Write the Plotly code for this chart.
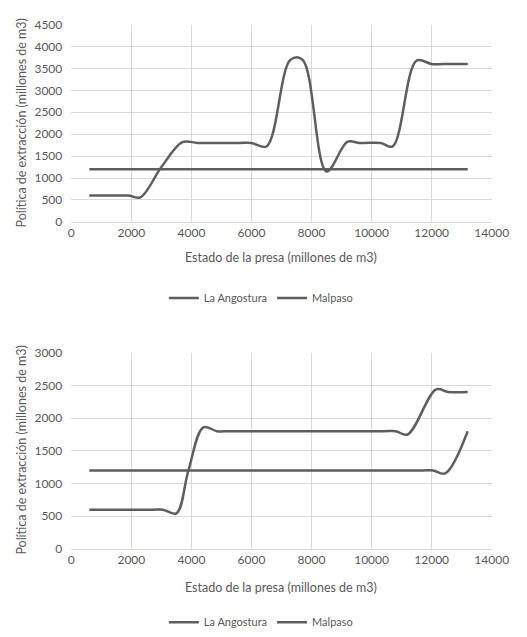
import plotly.graph_objects as go

# Policy curves: reservoir state (x) vs extraction policy (y)
top_angostura_x = [600, 1500, 1900, 2300, 3000, 3700, 4200, 4600, 5600, 6000, 6500, 7300, 7700, 8500, 9200, 9600, 10300, 10700, 11500, 12000, 12400, 13200]
top_angostura_y = [600, 600, 600, 560, 1250, 1820, 1800, 1800, 1800, 1800, 1720, 3700, 3700, 1150, 1830, 1800, 1800, 1720, 3680, 3600, 3600, 3600]
top_malpaso_x = [600, 13200]
top_malpaso_y = [1200, 1200]

bot_angostura_x = [600, 2700, 3050, 3500, 3900, 4400, 4850, 5300, 10400, 10800, 11200, 12150, 12550, 13200]
bot_angostura_y = [600, 600, 600, 545, 1200, 1860, 1800, 1800, 1800, 1800, 1750, 2440, 2400, 2400]
bot_malpaso_x = [600, 11700, 12050, 12450, 13200]
bot_malpaso_y = [1200, 1200, 1200, 1155, 1800]

series_names = ["La Angostura", "Malpaso"]
x_ticks = [0, 2000, 4000, 6000, 8000, 10000, 12000, 14000]
top_y_ticks = [0, 500, 1000, 1500, 2000, 2500, 3000, 3500, 4000, 4500]
bot_y_ticks = [0, 500, 1000, 1500, 2000, 2500, 3000]

x_title = "Estado de la presa (millones de m3)"
y_title = "Política de extracción (millones de m3)"

W, H = 527, 637
LINE = "#5e5e5e"
TEXT = "#595959"
GRID = "#d9d9d9"
FONT = "Lato"

def px_x(v):
    return v / W

def px_y(v):
    return 1 - v / H

fig = go.Figure()

line_style = dict(color=LINE, width=2.5, shape="spline", smoothing=1.0)

fig.add_trace(go.Scatter(x=top_angostura_x, y=top_angostura_y, mode="lines", name=series_names[0],
                         line=line_style, xaxis="x", yaxis="y", legend="legend"))
fig.add_trace(go.Scatter(x=top_malpaso_x, y=top_malpaso_y, mode="lines", name=series_names[1],
                         line=line_style, xaxis="x", yaxis="y", legend="legend"))
fig.add_trace(go.Scatter(x=bot_angostura_x, y=bot_angostura_y, mode="lines", name=series_names[0],
                         line=line_style, xaxis="x2", yaxis="y2", legend="legend2"))
fig.add_trace(go.Scatter(x=bot_malpaso_x, y=bot_malpaso_y, mode="lines", name=series_names[1],
                         line=line_style, xaxis="x2", yaxis="y2", legend="legend2"))

x_dom = [px_x(71), px_x(508)]
top_dom = [px_y(219), px_y(17)]
bot_dom = [px_y(554), px_y(353)]

def xaxis(anchor):
    return dict(domain=x_dom, anchor=anchor, range=[0, 14000], tickvals=x_ticks,
                ticktext=[str(v) for v in x_ticks],
                showgrid=True, gridcolor=GRID, gridwidth=1, zeroline=False,
                showline=True, linecolor=GRID, linewidth=1, mirror=False,
                tickfont=dict(family=FONT, size=12, color=TEXT), ticks="", fixedrange=True)

def yaxis(anchor, dom, rng, ticks):
    return dict(domain=dom, anchor=anchor, range=rng, tickvals=ticks,
                ticktext=[str(v) for v in ticks],
                showgrid=True, gridcolor=GRID, gridwidth=1, zeroline=False,
                showline=False, ticklabelstandoff=8,
                tickfont=dict(family=FONT, size=12, color=TEXT), ticks="", fixedrange=True)

legend_common = dict(orientation="h", xanchor="center", yanchor="middle",
                     font=dict(family=FONT, size=11, color=TEXT), bgcolor="rgba(0,0,0,0)",
                     itemwidth=30, tracegroupgap=0)

fig.update_layout(
    width=W, height=H,
    margin=dict(l=0, r=0, t=0, b=0),
    paper_bgcolor="white", plot_bgcolor="white",
    xaxis=xaxis("y"),
    yaxis=yaxis("x", top_dom, [0, 4500], top_y_ticks),
    xaxis2=xaxis("y2"),
    yaxis2=yaxis("x2", bot_dom, [0, 3000], bot_y_ticks),
    legend=dict(x=px_x(268), y=px_y(297), **legend_common),
    legend2=dict(x=px_x(268), y=px_y(629), **legend_common),
    showlegend=True,
)

annots = []
for ty, cy in [(256, 118), (593, 453)]:
    annots.append(dict(text=x_title, x=px_x(289), y=px_y(ty), xref="paper", yref="paper",
                       showarrow=False, xanchor="center", yanchor="middle",
                       font=dict(family=FONT, size=12.5, color=TEXT)))
    annots.append(dict(text=y_title, x=px_x(19), y=px_y(cy), xref="paper", yref="paper",
                       showarrow=False, xanchor="center", yanchor="middle", textangle=-90,
                       font=dict(family=FONT, size=12.5, color=TEXT)))
fig.update_layout(annotations=annots)

fig.write_html("out.html")
